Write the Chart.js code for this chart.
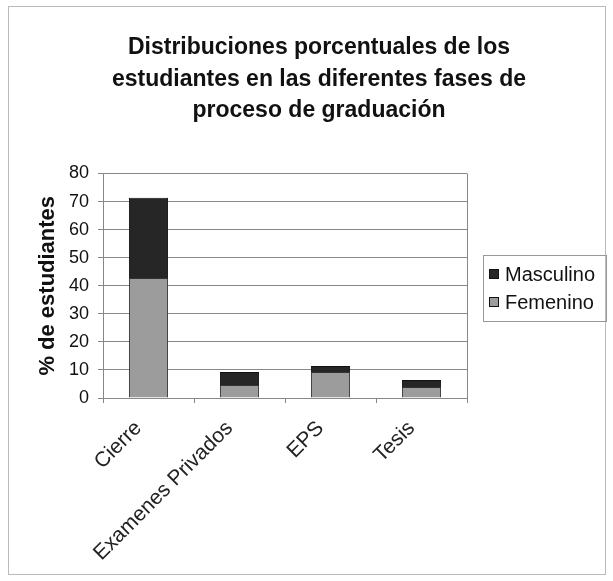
<!DOCTYPE html>
<html>
<head>
<meta charset="utf-8">
<script src="https://cdn.jsdelivr.net/npm/chart.js@4/dist/chart.umd.min.js"></script>
<style>
  body { margin: 0; background: #fff; }
  #wrap { position: absolute; left: 8px; top: 6px; width: 598px; height: 569px; border: 1px solid #bbb; box-sizing: border-box; }
  #c { position: absolute; left: 0; top: 0; }
</style>
</head>
<body>
<div id="wrap"><canvas id="c" width="598" height="569"></canvas></div>
<script>
// datos
const categorias = ['Cierre', 'Examenes Privados', 'EPS', 'Tesis'];
const femenino = [42.8, 4.6, 9.3, 3.9];
const masculino = [28.6, 4.7, 2.1, 2.5];
const marcasY = [0, 10, 20, 30, 40, 50, 60, 70, 80];

const fuente = '"Liberation Sans", Arial, sans-serif';
const ctx = document.getElementById('c').getContext('2d');

// leyenda dibujada a mano, con recuadro
const leyendaCaja = {
    id: 'leyendaCaja',
    afterDraw(chart) {
        const c = chart.ctx;
        const x = 474, y = 248, w = 123, h = 66;
        c.save();
        c.strokeStyle = '#999';
        c.lineWidth = 1;
        c.strokeRect(x + 0.5, y + 0.5, w, h);
        const items = chart.data.datasets.slice().reverse();
        c.font = '20px ' + fuente;
        c.textBaseline = 'middle';
        items.forEach(function (ds, i) {
            const cy = y + 19 + i * 28;
            c.fillStyle = ds.backgroundColor;
            c.fillRect(x + 6, cy - 5, 10, 10);
            c.strokeStyle = '#111';
            c.strokeRect(x + 6.5, cy - 4.5, 9, 9);
            c.fillStyle = '#111';
            c.fillText(ds.label, x + 22, cy + 1);
        });
        c.restore();
    }
};

new Chart(ctx, {
    type: 'bar',
    data: {
        labels: categorias,
        datasets: [{
            label: 'Femenino',
            data: femenino,
            backgroundColor: '#9c9c9c',
            borderColor: '#333',
            borderWidth: 1,
            barPercentage: 0.43,
            categoryPercentage: 1
        }, {
            label: 'Masculino',
            data: masculino,
            backgroundColor: '#262626',
            borderColor: '#111',
            borderWidth: 1,
            barPercentage: 0.43,
            categoryPercentage: 1
        }]
    },
    options: {
        responsive: false,
        animation: false,
        layout: { padding: { left: 22, right: 0, top: 25, bottom: 0 } },
        plugins: {
            legend: { display: false },
            tooltip: { enabled: false },
            title: {
                display: true,
                text: ['Distribuciones porcentuales de los', 'estudiantes en las diferentes fases de', 'proceso de graduación'],
                color: '#111',
                font: { family: fuente, size: 23, weight: 'bold', lineHeight: 1.37 },
                padding: { top: 0, bottom: 47 },
                align: 'center'
            }
        },
        scales: {
            x: {
                stacked: true,
                grid: { display: false },
                border: { color: '#888' },
                afterFit(axis) { axis.height = 178; },
                ticks: {
                    color: '#222',
                    maxRotation: 45,
                    minRotation: 45,
                    padding: 10,
                    labelOffset: -10,
                    font: { family: fuente, size: 21 }
                }
            },
            y: {
                stacked: true,
                min: 0,
                max: 80,
                afterBuildTicks(axis) { axis.ticks = marcasY.map(v => ({ value: v })); },
                afterFit(axis) { axis.width = 72; },
                grid: { color: '#888', tickLength: 5 },
                border: { color: '#888' },
                ticks: {
                    color: '#111',
                    padding: 9,
                    font: { family: fuente, size: 18 }
                },
                title: {
                    display: true,
                    text: '% de estudiantes',
                    color: '#111',
                    font: { family: fuente, size: 22, weight: 'bold' },
                    padding: { top: 4, bottom: 0 }
                }
            },
            // espacio reservado para la leyenda a la derecha
            hueco: {
                type: 'linear',
                position: 'right',
                display: true,
                afterFit(axis) { axis.width = 140; },
                grid: { display: false, drawTicks: false },
                border: { display: false },
                ticks: { display: false }
            }
        }
    },
    plugins: [leyendaCaja, {
        id: 'bordeDerecho',
        afterDraw(chart) {
            const a = chart.chartArea, c = chart.ctx;
            c.save();
            c.strokeStyle = '#888';
            c.lineWidth = 1;
            c.beginPath();
            c.moveTo(a.right + 0.5, a.top);
            c.lineTo(a.right + 0.5, a.bottom);
            c.stroke();
            // marcas del eje x en los limites de categoria
            for (let i = 0; i <= categorias.length; i++) {
                const px = Math.round(a.left + (a.right - a.left) * i / categorias.length) + 0.5;
                c.beginPath();
                c.moveTo(px, a.bottom);
                c.lineTo(px, a.bottom + 5);
                c.stroke();
            }
            c.restore();
        }
    }]
});
</script>
</body>
</html>
